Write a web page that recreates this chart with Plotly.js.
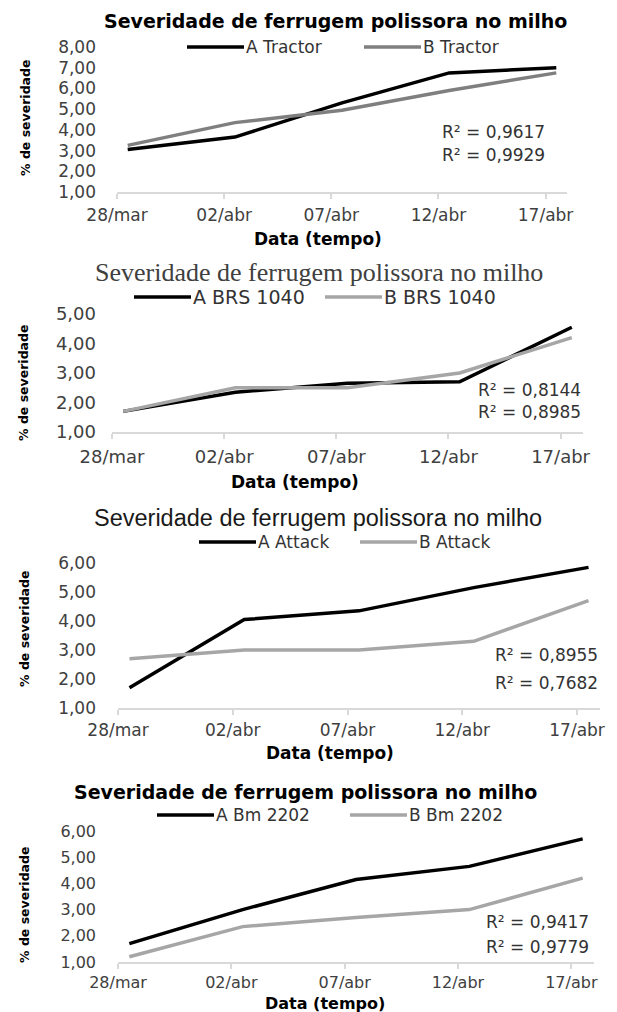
<!DOCTYPE html>
<html><head><meta charset="utf-8">
<script src="https://cdn.plot.ly/plotly-3.0.1.min.js"></script>
<style>html,body{margin:0;padding:0;background:#fff;}#chart{width:617px;height:1012px;}</style>
</head><body><div id="chart"></div>
<script>
// ---------- data ----------
const dates = ['2019-03-28','2019-04-02','2019-04-07','2019-04-12','2019-04-17'];
const dateLabels = ['28/mar','02/abr','07/abr','12/abr','17/abr'];
const chartTitle = 'Severidade de ferrugem polissora no milho';
const xTitle = 'Data (tempo)';
const yTitle = '% de severidade';

const tractorNames = ['A Tractor','B Tractor'];
const tractorA = [3.05, 3.65, 5.3, 6.75, 7.0];
const tractorB = [3.25, 4.35, 4.95, 5.9, 6.75];
const tractorR2 = ['R² = 0,9617','R² = 0,9929'];

const brsNames = ['A BRS 1040','B BRS 1040'];
const brsA = [1.7, 2.35, 2.65, 2.7, 4.55];
const brsB = [1.7, 2.5, 2.5, 3.0, 4.2];
const brsR2 = ['R² = 0,8144','R² = 0,8985'];

const attackNames = ['A Attack','B Attack'];
const attackA = [1.7, 4.05, 4.35, 5.15, 5.85];
const attackB = [2.7, 3.0, 3.0, 3.3, 4.7];
const attackR2 = ['R² = 0,8955','R² = 0,7682'];

const bmNames = ['A Bm 2202','B Bm 2202'];
const bmA = [1.7, 3.0, 4.15, 4.65, 5.7];
const bmB = [1.2, 2.35, 2.7, 3.0, 4.2];
const bmR2 = ['R² = 0,9417','R² = 0,9779'];

const yMax = [8, 5, 6, 6];

// ---------- layout config (positions / styles) ----------
const W = 617, H = 1012;
const px = x => x / W, py = y => 1 - y / H;
const SANS = 'DejaVu Sans';
const boldTitle = {family: SANS, size: 19, weight: 'bold', color: '#000'};
const panels = [
  {names: tractorNames, a: tractorA, b: tractorB, r2: tractorR2, ymax: yMax[0],
   plot: {x0: 117, x1: 567, yTop: 47, yBot: 192}, bColor: '#7f7f7f',
   title: {x: 336, y: 21, font: boldTitle}, tickSize: 17, legSize: 17, xtSize: 17, standoff: 2,
   legend: {y: 47, starts: [187, 364]},
   r2pos: {x: 547, y: [132, 155]}, xt: {x: 318, y: 239}, yt: {x: 25, y: 118}},
  {names: brsNames, a: brsA, b: brsB, r2: brsR2, ymax: yMax[1],
   plot: {x0: 112, x1: 583, yTop: 314, yBot: 432}, bColor: '#a6a6a6',
   title: {x: 319, y: 272, font: {family: 'Liberation Serif', size: 26, color: '#404040'}},
   tickSize: 18, legSize: 19, xtSize: 17, standoff: 2,
   legend: {y: 297, starts: [134, 325]},
   r2pos: {x: 583, y: [390, 412]}, xt: {x: 295, y: 482}, yt: {x: 24, y: 383}},
  {names: attackNames, a: attackA, b: attackB, r2: attackR2, ymax: yMax[2],
   plot: {x0: 118, x1: 600, yTop: 563, yBot: 708}, bColor: '#a6a6a6',
   title: {x: 318, y: 518, font: {family: 'Liberation Sans', size: 23.5, color: '#1a1a1a'}},
   tickSize: 17, legSize: 17, xtSize: 17, standoff: 1,
   legend: {y: 542, starts: [199, 360]},
   r2pos: {x: 600, y: [655, 683]}, xt: {x: 330, y: 753}, yt: {x: 24, y: 629}},
  {names: bmNames, a: bmA, b: bmB, r2: bmR2, ymax: yMax[3],
   plot: {x0: 118, x1: 594, yTop: 831, yBot: 962}, bColor: '#a6a6a6',
   title: {x: 305, y: 792, font: boldTitle}, tickSize: 16, legSize: 17, xtSize: 16, standoff: 0,
   legend: {y: 815, starts: [157, 350]},
   r2pos: {x: 591, y: [922, 947]}, xt: {x: 325, y: 1003}, yt: {x: 24, y: 905}}
];

const DAY = 86400000;
const addHours = (d, h) => new Date(Date.parse(d + 'T00:00:00Z') + h * 3600000).toISOString().slice(0, 19).replace('T', ' ');
const xStart = dates[0];
const xEnd = addHours(dates[dates.length - 1], 24);
const xPoints = dates.map(d => addHours(d, 12)); // Excel date axis: point sits in the middle of its day
const spanDays = (Date.parse(xEnd.replace(' ', 'T') + 'Z') - Date.parse(xStart + 'T00:00:00Z')) / DAY;

const traces = [], shapes = [], annotations = [];
const layout = {
  width: W, height: H, margin: {l: 0, r: 0, t: 0, b: 0},
  paper_bgcolor: '#fff', plot_bgcolor: '#fff', showlegend: false,
  separators: ',.', font: {family: SANS, color: '#404040'}
};

panels.forEach((p, i) => {
  const k = i === 0 ? '' : String(i + 1);
  const halfDayPx = (p.plot.x1 - p.plot.x0) / spanDays / 2;
  layout['xaxis' + k] = {
    type: 'date', domain: [px(p.plot.x0), px(p.plot.x1)], anchor: 'y' + k,
    range: [xStart, xEnd], tickmode: 'array', tickvals: dates, ticktext: dateLabels,
    ticks: 'outside', ticklen: 5, tickwidth: 2, tickcolor: '#d9d9d9',
    showline: true, linecolor: '#d9d9d9', linewidth: 2, showgrid: false, zeroline: false,
    tickfont: {family: SANS, size: p.tickSize, color: '#404040'},
    ticklabelshift: halfDayPx, ticklabelstandoff: p.standoff, fixedrange: true
  };
  layout['yaxis' + k] = {
    domain: [py(p.plot.yBot), py(p.plot.yTop)], anchor: 'x' + k,
    range: [1, p.ymax], tick0: 1, dtick: 1, tickformat: '.2f',
    showgrid: false, zeroline: false, showline: false, ticks: '',
    tickfont: {family: SANS, size: p.tickSize, color: '#404040'},
    ticklabelstandoff: p.plot.x0 - 97, fixedrange: true
  };
  const colors = ['#000000', p.bColor];
  [p.a, p.b].forEach((vals, j) => {
    traces.push({
      type: 'scatter', mode: 'lines', name: p.names[j], x: xPoints, y: vals,
      xaxis: 'x' + k, yaxis: 'y' + k,
      line: {color: colors[j], width: 3.5}, hoverinfo: 'x+y+name'
    });
    // manual legend entry: line + label
    const x0 = p.legend.starts[j];
    shapes.push({type: 'line', xref: 'paper', yref: 'paper',
      x0: px(x0), x1: px(x0 + 57), y0: py(p.legend.y), y1: py(p.legend.y),
      line: {color: colors[j], width: 3.5}});
    annotations.push({xref: 'paper', yref: 'paper', x: px(x0 + 57), y: py(p.legend.y),
      xanchor: 'left', yanchor: 'middle', showarrow: false, text: p.names[j],
      font: {family: SANS, size: p.legSize, color: '#333'}});
    // R² labels
    annotations.push({xref: 'paper', yref: 'paper', x: px(p.r2pos.x), y: py(p.r2pos.y[j]),
      xanchor: 'right', yanchor: 'middle', showarrow: false, text: p.r2[j],
      font: {family: SANS, size: 17, color: '#333'}});
  });
  annotations.push({xref: 'paper', yref: 'paper', x: px(p.title.x), y: py(p.title.y),
    xanchor: 'center', yanchor: 'middle', showarrow: false, text: chartTitle, font: p.title.font});
  annotations.push({xref: 'paper', yref: 'paper', x: px(p.xt.x), y: py(p.xt.y),
    xanchor: 'center', yanchor: 'middle', showarrow: false, text: xTitle,
    font: {family: SANS, size: p.xtSize, weight: 'bold', color: '#000'}});
  annotations.push({xref: 'paper', yref: 'paper', x: px(p.yt.x), y: py(p.yt.y),
    xanchor: 'center', yanchor: 'middle', showarrow: false, text: yTitle, textangle: -90,
    font: {family: SANS, size: 12.5, weight: 'bold', color: '#000'}});
});
layout.shapes = shapes;
layout.annotations = annotations;

Plotly.newPlot('chart', traces, layout, {displayModeBar: false, staticPlot: true});
</script>
</body></html>
